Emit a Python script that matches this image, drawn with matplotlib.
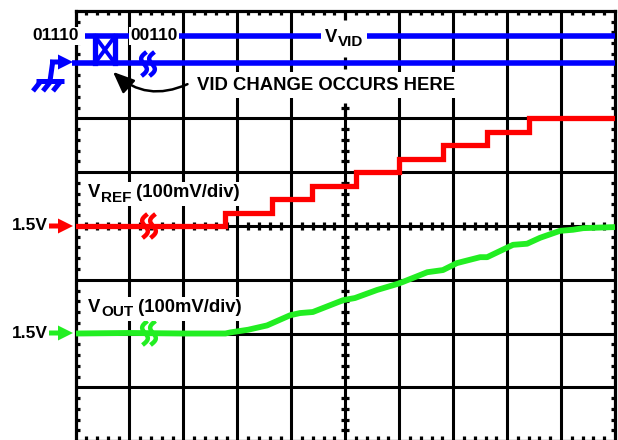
import matplotlib
matplotlib.use("Agg")
import matplotlib.pyplot as plt
import numpy as np
from matplotlib.collections import LineCollection
from matplotlib.patches import Polygon, FancyArrowPatch, Rectangle

plt.rcParams['font.family'] = ['Liberation Sans', 'DejaVu Sans']

# ---------------- data (time in divisions, voltages in V) ----------------
vref_step_times = [2.78, 3.64, 4.38, 5.20, 5.99, 6.81, 7.63, 8.41]
vref_levels = [1.500, 1.525, 1.550, 1.575, 1.600, 1.625, 1.650, 1.675, 1.700]

vout_t = [0.00, 1.00, 2.00, 2.78, 2.87, 3.20, 3.55, 3.98, 4.16, 4.40, 4.96, 5.18,
          5.59, 5.96, 6.07, 6.52, 6.81, 7.07, 7.50, 7.63, 8.11, 8.37, 8.61, 8.98,
          9.22, 9.41, 10.00]
vout_v = [1.500, 1.501, 1.500, 1.500, 1.502, 1.507, 1.515, 1.534, 1.538, 1.540, 1.562, 1.566,
          1.581, 1.592, 1.596, 1.614, 1.618, 1.631, 1.642, 1.642, 1.665, 1.667, 1.678, 1.691,
          1.693, 1.696, 1.698]

vid_codes = ['01110', '00110']
vid_change_t = [0.36, 0.73]
vref_offset_div = 0.0     # 1.5V marker position for VREF
vout_offset_div = -2.0    # 1.5V marker position for VOUT
volts_per_div = 0.1
ref_voltage = 1.5
vid_hi_div = 3.53
vid_lo_div = 3.03

# ---------------- figure ----------------
W, H = 618, 440
fig = plt.figure(figsize=(W / 100, H / 100), dpi=100)
L, R, T, B = 75.5, 615.0, 11.0, 441.0
ax = fig.add_axes([L / W, (H - B) / H, (R - L) / W, (B - T) / H])
ax.set_xlim(0, 10)
ax.set_ylim(-4, 4)
ax.set_xticks([])
ax.set_yticks([])
for s in ax.spines.values():
    s.set_linewidth(2.3)
    s.set_color('black')

lw_grid = 2.2
for xv in range(1, 10):
    if xv == 5:
        ax.plot([5, 5], [-4, 2], color='black', lw=lw_grid, zorder=1)
    else:
        ax.plot([xv, xv], [-4, 4], color='black', lw=lw_grid, zorder=1)
for yv in [-3, -2, -1, 0, 1, 2]:
    ax.plot([0, 10], [yv, yv], color='black', lw=lw_grid, zorder=1)

# minor ticks
px_x = 10 / (R - L)
px_y = 8 / (B - T)
tl_x = 4 * px_x
tl_y = 4 * px_y
segs = []
minor = [round(v, 1) for v in np.arange(0.2, 10, 0.2) if abs(v - round(v)) > 1e-6]
minor_y = [round(v, 1) for v in np.arange(-3.8, 4, 0.2) if abs(v - round(v)) > 1e-6]
for xv in minor:
    segs.append([(xv, -tl_y), (xv, tl_y)])
    segs.append([(xv, 4), (xv, 4 - tl_y)])
    segs.append([(xv, -4), (xv, -4 + 1.3 * tl_y)])
for yv in minor_y:
    segs.append([(0, yv), (tl_x, yv)])
    segs.append([(10, yv), (10 - tl_x, yv)])
    if yv < 2:
        segs.append([(5 - tl_x, yv), (5 + tl_x, yv)])
segs.append([(5, 4), (5, 4 - 2.2 * tl_y)])
segs.append([(5, 3.03 - 1.5 * tl_y), (5, 3.03 + 1.5 * tl_y)])
segs.append([(5, 2), (5, 2.2 + 1.2 * tl_y)])
segs.append([(5 - tl_x, 2.2), (5 + tl_x, 2.2)])
segs.append([(5 - tl_x, 3.03), (5 + tl_x, 3.03)])
ax.add_collection(LineCollection(segs, colors='black', linewidths=2.3, zorder=1))

# VREF staircase
xs = [0] + vref_step_times + [10]
ys = [(v - ref_voltage) / volts_per_div + vref_offset_div for v in vref_levels] + \
     [(vref_levels[-1] - ref_voltage) / volts_per_div + vref_offset_div]
ax.plot(xs, ys, drawstyle='steps-post', color='#ff0000', lw=3.8, zorder=3,
        solid_joinstyle='miter')

# VOUT
vy = [(v - ref_voltage) / volts_per_div + vout_offset_div for v in vout_v]
ax.plot(vout_t, vy, color='#22ee22', lw=4.2, zorder=3, solid_capstyle='butt')

# VID lines
blue = '#0000ff'
ax.plot([-0.065, 10], [vid_lo_div, vid_lo_div], color=blue,
        lw=4.0, zorder=3, clip_on=False, solid_capstyle='butt')
ax.plot([0.18, 10], [vid_hi_div, vid_hi_div], color=blue, lw=4.0, zorder=3,
        clip_on=False, solid_capstyle='butt')
x0, x1 = vid_change_t
ax.plot([x0, x0], [vid_lo_div, vid_hi_div], color=blue, lw=3.8, zorder=3)
ax.plot([x1, x1], [vid_lo_div, vid_hi_div], color=blue, lw=3.8, zorder=3)
ax.plot([x0, x1], [vid_hi_div, vid_lo_div], color=blue, lw=2.8, zorder=3)
ax.plot([x0, x1], [vid_lo_div, vid_hi_div], color=blue, lw=2.8, zorder=3)

# ---------------- overlay in pixel coordinates ----------------
ov = fig.add_axes([0, 0, 1, 1], zorder=5)
ov.set_xlim(0, W)
ov.set_ylim(H, 0)
ov.axis('off')
ov.patch.set_alpha(0)
renderer = fig.canvas.get_renderer()


def sub_label(x, y, main, sub, rest='', size=13.3, subsize=11.0, pad=2):
    t1 = ov.text(x, y, main, fontsize=size, fontweight='bold', ha='left',
                 va='baseline', zorder=6)
    e1 = t1.get_window_extent(renderer)
    x2 = x + e1.width + 0.5
    t2 = ov.text(x2, y + 4.5, sub, fontsize=subsize, fontweight='bold', ha='left',
                 va='baseline', zorder=6)
    e2 = t2.get_window_extent(renderer)
    exts = [e1, e2]
    if rest:
        t3 = ov.text(x2 + e2.width, y, rest, fontsize=size, fontweight='bold', ha='left',
                     va='baseline', zorder=6)
        exts.append(t3.get_window_extent(renderer))
    x_lo = min(e.x0 for e in exts) - pad
    x_hi = max(e.x1 for e in exts) + pad
    y_top = H - max(e.y1 for e in exts) - pad
    y_bot = H - min(e.y0 for e in exts) + pad
    ov.add_patch(Rectangle((x_lo, y_top), x_hi - x_lo, y_bot - y_top,
                           facecolor='white', edgecolor='none', zorder=5.5))


wbox = dict(facecolor='white', edgecolor='none', pad=1.0)
ov.text(56, 36, vid_codes[0], fontsize=12.5, fontweight='bold', ha='center', va='center', bbox=wbox)
ov.text(154, 36, vid_codes[1], fontsize=12.5, fontweight='bold', ha='center', va='center', bbox=wbox)
sub_label(325, 42, 'V', 'VID', size=13.3, subsize=11.0, pad=4)
ov.text(197, 85, 'VID CHANGE OCCURS HERE', fontsize=13.3, fontweight='bold', ha='left',
        va='center', bbox=dict(facecolor='white', edgecolor='none', pad=3))
sub_label(88, 197, 'V', 'REF', ' (100mV/div)')
sub_label(88, 312, 'V', 'OUT', ' (100mV/div)')
ov.text(12, 226, '1.5V', fontsize=12.5, fontweight='bold', ha='left', va='center')
ov.text(12, 333, '1.5V', fontsize=12.5, fontweight='bold', ha='left', va='center')


def marker_arrow(y, color, x_start=49, x_tip=73):
    ov.add_patch(Polygon([(x_start, y - 2.5), (x_tip - 15, y - 2.5), (x_tip - 15, y - 7.5),
                          (x_tip, y), (x_tip - 15, y + 7.5), (x_tip - 15, y + 2.5),
                          (x_start, y + 2.5)], closed=True, color=color, lw=0))


marker_arrow(226, '#ff0000')
marker_arrow(333, '#22ee22')
marker_arrow(62, blue, x_start=50, x_tip=73)

# ground symbol
ov.plot([53, 50], [60, 81], color=blue, lw=3.6, solid_capstyle='butt')
ov.plot([36, 64], [81, 81], color=blue, lw=3.6, solid_capstyle='butt')
for fx in [41, 51, 61]:
    ov.plot([fx, fx - 8], [81, 91], color=blue, lw=3.6, solid_capstyle='butt')


def squiggle(cx, cy, color):
    s = np.linspace(0, 1, 40)
    for dx in (-4.0, 4.0):
        x = cx + dx - 5 * (s - 0.5) - 4.0 * np.sin(2 * np.pi * s)
        y = cy - 12 + 24 * s
        ov.plot(x, y, color=color, lw=3.2, solid_capstyle='butt')


squiggle(148, 64, blue)
squiggle(149, 226, '#ff0000')
squiggle(149, 333, '#22ee22')

# annotation arrow
arr = FancyArrowPatch((190, 83), (111, 70), connectionstyle='arc3,rad=-0.35',
                      arrowstyle='-|>,head_length=13,head_width=5.5', color='black',
                      lw=1.8, mutation_scale=1)
ov.add_patch(arr)

fig.savefig('out.png', dpi=100)
